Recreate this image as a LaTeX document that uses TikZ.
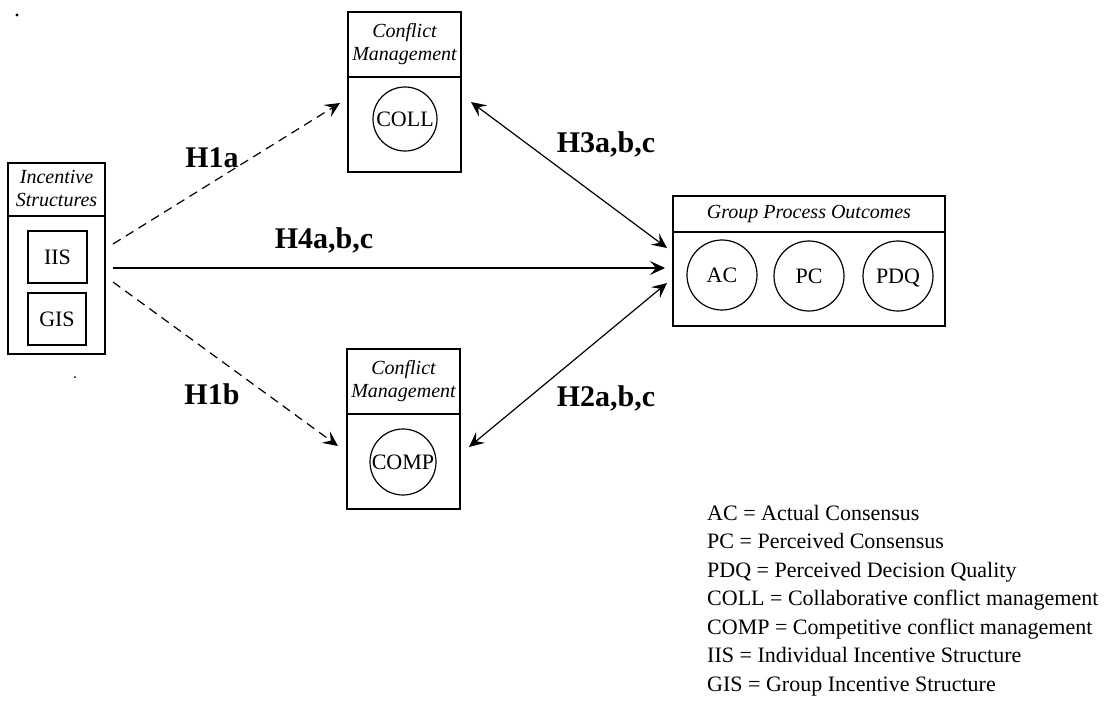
\documentclass[tikz,border=0pt]{standalone}
\usepackage{fontspec}
\setmainfont{Liberation Serif}
\usetikzlibrary{arrows.meta}
\begin{document}
\begin{tikzpicture}[x=1pt,y=-1pt,
  box/.style={draw, line width=1.3pt, inner sep=0pt},
  hdr/.style={font=\fontsize{20}{23}\selectfont\itshape, align=center, inner sep=0pt},
  circ/.style={draw, circle, line width=1.2pt, inner sep=0pt, text depth=0pt, font=\fontsize{22}{24}\selectfont},
  sbox/.style={draw, line width=1.2pt, inner sep=0pt, font=\fontsize{22}{24}\selectfont},
  lab/.style={font=\fontsize{30}{32}\selectfont\bfseries, inner sep=0pt},
  leg/.style={font=\fontsize{22}{24}\selectfont, anchor=base west, inner sep=0pt},
  arr/.style={line width=1.2pt, -{Stealth[length=15pt,width=14pt,inset=6pt]}},
  darr/.style={line width=1.2pt, {Stealth[length=15pt,width=14pt,inset=6pt]}-{Stealth[length=15pt,width=14pt,inset=6pt]}},
  dsh/.style={dash pattern=on 9pt off 6pt}
]
\useasboundingbox (0,0) rectangle (1108,710);

% scan specks
\fill (17,15) circle (1.6pt);
\fill (75,377) circle (1pt);

% Incentive Structures
\node[box, minimum width=97pt, minimum height=191pt] (inc) at (56.5,258.5) {};
\draw[line width=1.3pt] (inc.west |- 0,216) -- (inc.east |- 0,216);
\node[hdr] (inch) at (56.5,188) {Incentive\\Structures};
\node[sbox, minimum width=59pt, minimum height=52pt] (iis) at (57.5,257) {IIS};
\node[sbox, minimum width=58pt, minimum height=52pt] (gis) at (57,319) {GIS};

% Conflict Management (COLL)
\node[box, minimum width=113pt, minimum height=160pt] (cm1) at (404.5,92) {};
\draw[line width=1.3pt] (cm1.west |- 0,77) -- (cm1.east |- 0,77);
\node[hdr] (cm1h) at (404.5,44) {Conflict\\Management};
\node[circ, minimum size=64pt] (coll) at (405,119) {COLL};

% Conflict Management (COMP)
\node[box, minimum width=113pt, minimum height=160pt] (cm2) at (403.5,429) {};
\draw[line width=1.3pt] (cm2.west |- 0,414) -- (cm2.east |- 0,414);
\node[hdr] (cm2h) at (403.5,381) {Conflict\\Management};
\node[circ, minimum size=66pt] (comp) at (403,462) {COMP};

% Group Process Outcomes
\node[box, minimum width=272pt, minimum height=130pt] (gpo) at (809,261) {};
\draw[line width=1.3pt] (gpo.west |- 0,232) -- (gpo.east |- 0,232);
\node[hdr] (gpoh) at (809,214) {Group Process Outcomes};
\node[circ, minimum size=70pt] (ac) at (722,275) {AC};
\node[circ, minimum size=70pt] (pc) at (809,276) {PC};
\node[circ, minimum size=70pt] (pdq) at (898,276) {PDQ};

% connector end points
\coordinate (s1) at (113,244);
\coordinate (s4) at (113,268);
\coordinate (s2) at (113,282);
\coordinate (e1) at (340,103);
\coordinate (e2) at (338,446);
\coordinate (e4) at (665,268);
\coordinate (c3a) at (471,102);
\coordinate (c3b) at (667,248);
\coordinate (c2a) at (469,447);
\coordinate (c2b) at (667,283);

\draw[arr, dsh] (s1) -- (e1);
\draw[arr, dsh] (s2) -- (e2);
\draw[arr] (s4) -- (e4);
\draw[darr] (c3a) -- (c3b);
\draw[darr] (c2a) -- (c2b);

% labels
\node[lab] (h1a) at (212,158) {H1a};
\node[lab] (h4) at (324,240) {H4a,b,c};
\node[lab] (h1b) at (212,394) {H1b};
\node[lab] (h3) at (606,144) {H3a,b,c};
\node[lab] (h2) at (606,398) {H2a,b,c};

% legend
\node[leg] (l1) at (707,520) {AC = Actual Consensus};
\node[leg] (l2) at (707,548.5) {PC = Perceived Consensus};
\node[leg] (l3) at (707,577) {PDQ = Perceived Decision Quality};
\node[leg] (l4) at (707,605.5) {COLL = Collaborative conflict management};
\node[leg] (l5) at (707,634) {COMP = Competitive conflict management};
\node[leg] (l6) at (707,662.5) {IIS = Individual Incentive Structure};
\node[leg] (l7) at (707,691) {GIS = Group Incentive Structure};
\end{tikzpicture}
\end{document}
